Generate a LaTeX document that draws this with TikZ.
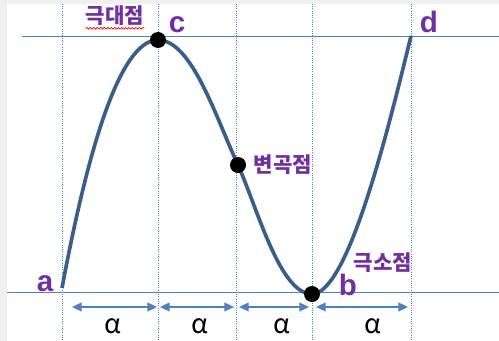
\documentclass[tikz,border=0pt]{standalone}
\usepackage{fontspec}
\setsansfont{Liberation Sans}
\newfontfamily\krfont{Noto Sans CJK KR}
\usetikzlibrary{arrows.meta,positioning,decorations.pathmorphing}
\definecolor{gridblue}{RGB}{79,129,189}
\definecolor{curveblue}{RGB}{58,94,138}
\definecolor{labpurple}{RGB}{112,48,160}
\definecolor{framegray}{RGB}{240,240,240}

\begin{document}
\begin{tikzpicture}[
  x=0.025cm,y=-0.025cm,
  guide/.style={gridblue,line width=0.7pt},
  vline/.style={gridblue,densely dotted,line width=0.6pt},
  curve/.style={curveblue,line width=2.6pt},
  dot/.style={circle,fill=black,inner sep=0pt,minimum size=0.4cm},
  letter/.style={labpurple,font=\sffamily\bfseries\fontsize{21}{21}\selectfont,inner sep=0pt},
  hangul/.style={labpurple,font=\krfont\bfseries\fontsize{15}{15}\selectfont,inner sep=0pt},
  span/.style={{Triangle[length=2.4mm,width=2.2mm]}-{Triangle[length=2.4mm,width=2.2mm]},gridblue,line width=1.1pt},
  alphalab/.style={font=\krfont\fontsize{19}{19}\selectfont,inner sep=0pt}]
% frame
\fill[framegray] (0,0) rectangle (499,341);
\fill[white] (7,4) rectangle (499,341);
\useasboundingbox (0,0) rectangle (499,341);
% guide lines
\coordinate (topl) at (22,36);
\coordinate (topr) at (499,36);
\coordinate (botl) at (7,292);
\coordinate (botr) at (499,292);
\draw[guide] (topl) -- (topr);
\draw[guide] (botl) -- (botr);
\foreach \x [count=\i] in {62,158,236,312,411} {
  \coordinate (t\i) at (\x,4);
  \coordinate (f\i) at (\x,341);
  \draw[vline] (t\i) -- (f\i);
}
% the curve
\coordinate (a) at (62,288);
\coordinate (c) at (158,40);
\coordinate (infl) at (238,165);
\coordinate (b) at (312,294);
\coordinate (d) at (411,36);
\draw[curve] (a) .. controls (86,160) and (118,40) .. (c)
  .. controls (192,40) and (216,118) .. (infl)
  .. controls (258,210) and (280,294) .. (b)
  .. controls (348,294) and (388,130) .. (d);
\node[dot] (cdot) at (c) {};
\node[dot] (idot) at (infl) {};
\node[dot] (bdot) at (b) {};
% labels
\node[letter] (la) at (45,284) {a};
\node[letter] (lc) at (177,25) {c};
\node[letter] (ld) at (429,22) {d};
\node[letter] (lb) at (348,285) {b};
\node[hangul] (kmax) at (115,16) {극대점};
\node[hangul] (kinf) at (283,165) {변곡점};
\node[hangul] (kmin) at (383,263) {극소점};
\draw[red,line width=0.5pt,decorate,decoration={snake,amplitude=0.6pt,segment length=2.5pt}]
  ([yshift=-1.5pt]kmax.south west) -- ([yshift=-1.5pt]kmax.south east);
% spans
\coordinate (s1) at (72,307);  \coordinate (e1) at (157,307);
\coordinate (s2) at (160,307); \coordinate (e2) at (234,307);
\coordinate (s3) at (239,307); \coordinate (e3) at (309,307);
\coordinate (s4) at (316,307); \coordinate (e4) at (408,307);
\foreach \i/\m in {1/113,2/200,3/282,4/373} {
  \draw[span] (s\i) -- (e\i);
  \node[alphalab] (al\i) at (\m,326) {α};
}
\end{tikzpicture}
\end{document}
